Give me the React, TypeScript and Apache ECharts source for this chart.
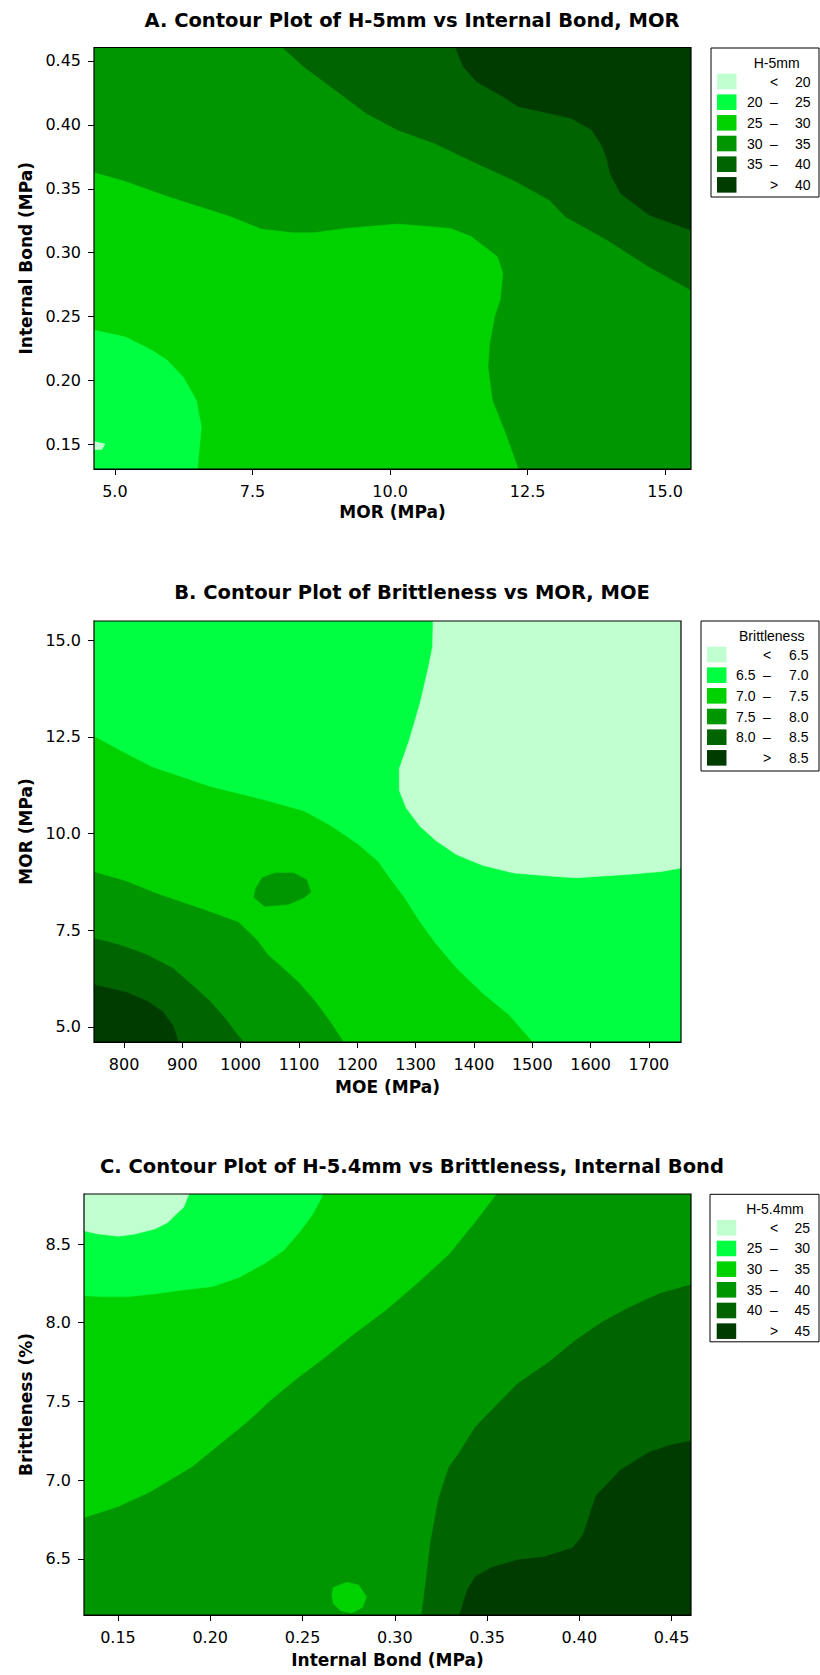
import { useEffect, useRef } from 'react';
import * as echarts from 'echarts';

type Pt = [number, number];

// ---------------- colours of the six contour levels (low -> high) ----------------
const LEVEL_COLORS = ['#C0FFD0', '#00FF40', '#00D200', '#009600', '#006400', '#003C00'];

// ---------------- Plot A : H-5mm vs Internal Bond, MOR ----------------
const A_TITLE = 'A. Contour Plot of H-5mm vs Internal Bond, MOR';
const A_X_NAME = 'MOR (MPa)';
const A_Y_NAME = 'Internal Bond (MPa)';
const A_X_RANGE: Pt = [4.62, 15.47];
const A_Y_RANGE: Pt = [0.131, 0.4604];
const A_X_TICKS = [5.0, 7.5, 10.0, 12.5, 15.0];
const A_Y_TICKS = [0.15, 0.2, 0.25, 0.3, 0.35, 0.4, 0.45];
const A_LEGEND_TITLE = 'H-5mm';
const A_BREAKS = [20, 25, 30, 35, 40];
const A_EDGE_35: Pt[] = [[8.05, 0.4604], [8.43, 0.4456], [9.0, 0.4273], [9.57, 0.409], [10.14, 0.396], [10.81, 0.3856], [11.57, 0.3699], [12.24, 0.3569], [12.9, 0.3412], [13.19, 0.3282], [13.95, 0.3099], [14.71, 0.289], [15.47, 0.2708]];
const A_EDGE_40: Pt[] = [[11.19, 0.4604], [11.33, 0.4456], [11.57, 0.4338], [12.05, 0.4221], [12.33, 0.4143], [12.9, 0.409], [13.29, 0.4051], [13.67, 0.396], [13.86, 0.383], [13.95, 0.3725], [14.0, 0.3621], [14.19, 0.3464], [14.71, 0.3295], [15.47, 0.3177]];
const A_EDGE_30: Pt[] = [[4.62, 0.3626], [5.19, 0.3556], [5.95, 0.3439], [6.62, 0.3347], [7.1, 0.3282], [7.67, 0.3183], [8.24, 0.3156], [8.62, 0.3156], [9.19, 0.319], [10.14, 0.3224], [11.1, 0.319], [11.48, 0.3125], [11.95, 0.2969], [12.05, 0.2838], [12.0, 0.2629], [11.9, 0.2499], [11.81, 0.229], [11.78, 0.2108], [11.86, 0.1847], [12.1, 0.1586], [12.33, 0.131]];
const A_EDGE_25: Pt[] = [[4.62, 0.2395], [5.19, 0.2342], [5.67, 0.2238], [5.95, 0.216], [6.24, 0.2029], [6.48, 0.1847], [6.57, 0.1638], [6.5, 0.131]];
const A_SPOT_20: Pt[] = [[4.62, 0.1525], [4.82, 0.1505], [4.76, 0.1462], [4.62, 0.1462]];

// ---------------- Plot B : Brittleness vs MOR, MOE ----------------
const B_TITLE = 'B. Contour Plot of Brittleness vs MOR, MOE';
const B_X_NAME = 'MOE (MPa)';
const B_Y_NAME = 'MOR (MPa)';
const B_X_RANGE: Pt = [748.5, 1755];
const B_Y_RANGE: Pt = [4.61, 15.5];
const B_X_TICKS = [800, 900, 1000, 1100, 1200, 1300, 1400, 1500, 1600, 1700];
const B_Y_TICKS = [5.0, 7.5, 10.0, 12.5, 15.0];
const B_LEGEND_TITLE = 'Brittleness';
const B_BREAKS = [6.5, 7.0, 7.5, 8.0, 8.5];
const B_EDGE_65: Pt[] = [[1330, 15.5], [1329, 14.82], [1320, 14.17], [1307, 13.34], [1289, 12.41], [1272, 11.68], [1272, 11.12], [1284, 10.66], [1307, 10.2], [1334, 9.83], [1370, 9.46], [1415, 9.18], [1469, 8.98], [1541, 8.89], [1577, 8.86], [1667, 8.95], [1721, 9.02], [1755, 9.11]];
const B_EDGE_70: Pt[] = [[748.5, 12.51], [794, 12.14], [848, 11.72], [947, 11.21], [1046, 10.84], [1109, 10.57], [1154, 10.2], [1199, 9.74], [1235, 9.28], [1257, 8.81], [1280, 8.35], [1307, 7.71], [1334, 7.15], [1370, 6.51], [1415, 5.86], [1460, 5.3], [1500, 4.61]];
const B_EDGE_75: Pt[] = [[748.5, 9.0], [803, 8.77], [857, 8.44], [929, 8.07], [996, 7.71], [1028, 7.24], [1046, 6.87], [1073, 6.51], [1100, 6.14], [1127, 5.67], [1154, 5.12], [1176, 4.61]];
const B_ISLAND_75: Pt[] = [[1037, 8.86], [1059, 8.98], [1091, 8.98], [1113, 8.81], [1120, 8.49], [1109, 8.35], [1082, 8.17], [1041, 8.12], [1023, 8.35], [1026, 8.58]];
const B_EDGE_80: Pt[] = [[748.5, 7.29], [794, 7.11], [839, 6.87], [884, 6.51], [920, 6.04], [947, 5.67], [974, 5.21], [992, 4.84], [1005, 4.61]];
const B_EDGE_85: Pt[] = [[748.5, 6.09], [803, 5.9], [839, 5.67], [866, 5.4], [884, 5.03], [893, 4.61]];

// ---------------- Plot C : H-5.4mm vs Brittleness, Internal Bond ----------------
const C_TITLE = 'C. Contour Plot of H-5.4mm vs Brittleness, Internal Bond';
const C_X_NAME = 'Internal Bond (MPa)';
const C_Y_NAME = 'Brittleness (%)';
const C_X_RANGE: Pt = [0.1316, 0.4605];
const C_Y_RANGE: Pt = [6.143, 8.818];
const C_X_TICKS = [0.15, 0.2, 0.25, 0.3, 0.35, 0.4, 0.45];
const C_Y_TICKS = [6.5, 7.0, 7.5, 8.0, 8.5];
const C_LEGEND_TITLE = 'H-5.4mm';
const C_BREAKS = [25, 30, 35, 40, 45];
const C_EDGE_35: Pt[] = [[0.1316, 6.763], [0.15, 6.832], [0.1671, 6.924], [0.1899, 7.084], [0.2069, 7.245], [0.2212, 7.382], [0.2326, 7.508], [0.2468, 7.645], [0.2611, 7.771], [0.2781, 7.932], [0.2952, 8.081], [0.3123, 8.253], [0.3294, 8.436], [0.3436, 8.642], [0.355, 8.818]];
const C_EDGE_30: Pt[] = [[0.1316, 8.172], [0.1415, 8.166], [0.1557, 8.166], [0.1699, 8.184], [0.1842, 8.207], [0.2013, 8.23], [0.2155, 8.287], [0.2297, 8.379], [0.2397, 8.459], [0.2482, 8.573], [0.2554, 8.688], [0.2596, 8.779], [0.2611, 8.818]];
const C_EDGE_25: Pt[] = [[0.1316, 8.585], [0.1386, 8.566], [0.15, 8.55], [0.1585, 8.562], [0.1699, 8.596], [0.177, 8.637], [0.1813, 8.688], [0.1856, 8.734], [0.1884, 8.818]];
const C_ISLAND_35: Pt[] = [[0.2667, 6.317], [0.2739, 6.351], [0.2804, 6.333], [0.2847, 6.259], [0.2824, 6.191], [0.2767, 6.156], [0.271, 6.168], [0.2667, 6.214], [0.2659, 6.271]];
const C_EDGE_40: Pt[] = [[0.3146, 6.143], [0.3166, 6.328], [0.3194, 6.603], [0.3237, 6.878], [0.3294, 7.084], [0.3351, 7.176], [0.3436, 7.336], [0.355, 7.474], [0.3664, 7.611], [0.3835, 7.749], [0.3977, 7.886], [0.412, 8.001], [0.4262, 8.092], [0.4433, 8.184], [0.4605, 8.241]];
const C_EDGE_45: Pt[] = [[0.3351, 6.143], [0.3394, 6.305], [0.3436, 6.385], [0.3522, 6.443], [0.3664, 6.493], [0.3806, 6.511], [0.3963, 6.569], [0.402, 6.649], [0.4091, 6.901], [0.4148, 6.97], [0.4219, 7.061], [0.4376, 7.176], [0.449, 7.222], [0.4605, 7.249]];

// ---------------- layout ----------------
const FONT = '"DejaVu Sans", Verdana, sans-serif';
const LEGEND_FONT = '"Liberation Sans", Arial, sans-serif';
const GRIDS = [
  { left: 94, top: 47.5, width: 597, height: 421.5 },
  { left: 94, top: 621, width: 587, height: 421 },
  { left: 84, top: 1194, width: 607, height: 421 },
];
const TITLE_CY = [21.7, 593.8, 1167.7];
const LEGEND_BOX = [
  { left: 711, top: 48, width: 108, height: 149, sw: 6, xT: 776.7, xL: 747, xD: 774, xR: 810.5 },
  { left: 701, top: 621, width: 118, height: 150, sw: 6, xT: 771.7, xL: 736, xD: 767, xR: 808.5 },
  { left: 710, top: 1194.3, width: 109, height: 147.5, sw: 6.7, xT: 775, xL: 746.7, xD: 774, xR: 810 },
];

interface Region { level: number; pts: Pt[] }

const rect = (xr: Pt, yr: Pt): Pt[] => [[xr[0], yr[0]], [xr[1], yr[0]], [xr[1], yr[1]], [xr[0], yr[1]]];

function buildRegions(): Region[][] {
  const aTR: Pt = [A_X_RANGE[1], A_Y_RANGE[1]];
  const aBL: Pt = [A_X_RANGE[0], A_Y_RANGE[0]];
  const A: Region[] = [
    { level: 3, pts: rect(A_X_RANGE, A_Y_RANGE) },
    { level: 4, pts: [...A_EDGE_35, aTR] },
    { level: 5, pts: [...A_EDGE_40, aTR] },
    { level: 2, pts: [...A_EDGE_30, aBL] },
    { level: 1, pts: [...A_EDGE_25, aBL] },
    { level: 0, pts: A_SPOT_20 },
  ];
  const bTR: Pt = [B_X_RANGE[1], B_Y_RANGE[1]];
  const bBL: Pt = [B_X_RANGE[0], B_Y_RANGE[0]];
  const B: Region[] = [
    { level: 1, pts: rect(B_X_RANGE, B_Y_RANGE) },
    { level: 0, pts: [...B_EDGE_65, bTR] },
    { level: 2, pts: [...B_EDGE_70, bBL] },
    { level: 3, pts: [...B_EDGE_75, bBL] },
    { level: 3, pts: B_ISLAND_75 },
    { level: 4, pts: [...B_EDGE_80, bBL] },
    { level: 5, pts: [...B_EDGE_85, bBL] },
  ];
  const cTL: Pt = [C_X_RANGE[0], C_Y_RANGE[1]];
  const cBR: Pt = [C_X_RANGE[1], C_Y_RANGE[0]];
  const C: Region[] = [
    { level: 3, pts: rect(C_X_RANGE, C_Y_RANGE) },
    { level: 2, pts: [...C_EDGE_35, cTL] },
    { level: 1, pts: [...C_EDGE_30, cTL] },
    { level: 0, pts: [...C_EDGE_25, cTL] },
    { level: 2, pts: C_ISLAND_35 },
    { level: 4, pts: [...C_EDGE_40, cBR] },
    { level: 5, pts: [...C_EDGE_45, cBR] },
  ];
  return [A, B, C];
}

function axis(kind: 'x' | 'y', idx: number, range: Pt, ticks: number[], digits: number, name: string, gap: number) {
  return {
    type: 'value',
    gridIndex: idx,
    position: kind === 'x' ? 'bottom' : 'left',
    min: range[0],
    max: range[1],
    name,
    nameLocation: 'middle',
    nameGap: gap,
    nameTextStyle: { fontFamily: FONT, fontWeight: 'bold', fontSize: 17, color: '#000' },
    axisLine: { show: true, onZero: false, lineStyle: { color: '#000', width: 1 } },
    axisTick: { show: true, length: 6, lineStyle: { color: '#000' }, customValues: ticks },
    axisLabel: {
      customValues: ticks,
      formatter: (v: number) => v.toFixed(digits),
      fontFamily: FONT,
      fontSize: 16,
      color: '#000',
      margin: kind === 'x' ? 14 : 13,
    },
    splitLine: { show: false },
  };
}

function contourSeries(idx: number, regions: Region[]) {
  return {
    type: 'custom',
    coordinateSystem: 'cartesian2d',
    xAxisIndex: idx,
    yAxisIndex: idx,
    clip: true,
    silent: true,
    data: regions.map((r, i) => [r.pts[0][0], r.pts[0][1], i]),
    encode: { x: 0, y: 1 },
    renderItem: (params: any, api: any) => {
      const r = regions[params.dataIndex];
      const c = LEVEL_COLORS[r.level];
      return {
        type: 'polygon',
        shape: { points: r.pts.map((p) => api.coord(p)) },
        style: { fill: c, stroke: c, lineWidth: 0.6 },
      };
    },
  };
}

function legendLabels(breaks: number[], digits: number): string[][] {
  const f = (v: number) => v.toFixed(digits);
  const rows: string[][] = [['', '<', f(breaks[0])]];
  for (let i = 0; i < breaks.length - 1; i++) rows.push([f(breaks[i]), '–', f(breaks[i + 1])]);
  rows.push(['', '>', f(breaks[breaks.length - 1])]);
  return rows;
}

function txt(x: number, y: number, text: string, align: string, size: number) {
  return {
    type: 'text',
    x,
    y,
    style: {
      text,
      fontFamily: LEGEND_FONT,
      fontSize: size,
      fill: '#000',
      align,
      textAlign: align,
      verticalAlign: 'middle',
      textVerticalAlign: 'middle',
    },
  };
}

function legendGraphic(i: number, title: string, breaks: number[], digits: number) {
  const b = LEGEND_BOX[i];
  const els: any[] = [
    {
      type: 'rect',
      shape: { x: b.left, y: b.top, width: b.width, height: b.height },
      style: { fill: '#fff', stroke: '#000', lineWidth: 1 },
    },
    txt(b.xT, b.top + 14.7, title, 'center', 14),
  ];
  const rows = legendLabels(breaks, digits);
  rows.forEach((row, k) => {
    const top = b.top + 25.7 + k * 20.67;
    const cy = top + 7.8;
    els.push({
      type: 'rect',
      shape: { x: b.left + b.sw, y: top, width: 19.5, height: 15.6 },
      style: { fill: LEVEL_COLORS[k] },
    });
    if (row[0]) els.push(txt(b.xL, cy, row[0], 'left', 14));
    els.push(txt(b.xD, cy, row[1], 'center', 14));
    els.push(txt(b.xR, cy, row[2], 'right', 14));
  });
  return { type: 'group', children: els };
}

function buildOption() {
  const regions = buildRegions();
  const titles = [A_TITLE, B_TITLE, C_TITLE];
  return {
    animation: false,
    backgroundColor: '#fff',
    title: titles.map((t, i) => ({
      text: t,
      left: 412,
      top: TITLE_CY[i] - 11,
      textAlign: 'center',
      padding: 0,
      textStyle: { fontFamily: FONT, fontWeight: 'bold', fontSize: 19.5, color: '#000' },
    })),
    grid: GRIDS.map((g) => ({ ...g, containLabel: false, show: false })),
    xAxis: [
      axis('x', 0, A_X_RANGE, A_X_TICKS, 1, A_X_NAME, 34),
      axis('x', 1, B_X_RANGE, B_X_TICKS, 0, B_X_NAME, 36),
      axis('x', 2, C_X_RANGE, C_X_TICKS, 2, C_X_NAME, 36),
    ],
    yAxis: [
      axis('y', 0, A_Y_RANGE, A_Y_TICKS, 2, A_Y_NAME, 60),
      axis('y', 1, B_Y_RANGE, B_Y_TICKS, 1, B_Y_NAME, 60),
      axis('y', 2, C_Y_RANGE, C_Y_TICKS, 1, C_Y_NAME, 50),
    ],
    series: regions.map((r, i) => contourSeries(i, r)),
    graphic: [
      ...GRIDS.map((g) => ({
        type: 'rect',
        z: 100,
        shape: { x: g.left, y: g.top, width: g.width, height: g.height },
        style: { fill: 'none', stroke: '#000', lineWidth: 1.2 },
      })),
      legendGraphic(0, A_LEGEND_TITLE, A_BREAKS, 0),
      legendGraphic(1, B_LEGEND_TITLE, B_BREAKS, 1),
      legendGraphic(2, C_LEGEND_TITLE, C_BREAKS, 0),
    ],
  };
}

export default function App() {
  const ref = useRef<HTMLDivElement>(null);
  useEffect(() => {
    if (!ref.current) return;
    const chart = echarts.init(ref.current, undefined, { renderer: 'svg' });
    chart.setOption(buildOption() as any);
    return () => chart.dispose();
  }, []);
  return (
    <div
      ref={ref}
      style={{ position: 'absolute', left: 0, top: 0, width: 820, height: 1675, background: '#fff' }}
    />
  );
}
